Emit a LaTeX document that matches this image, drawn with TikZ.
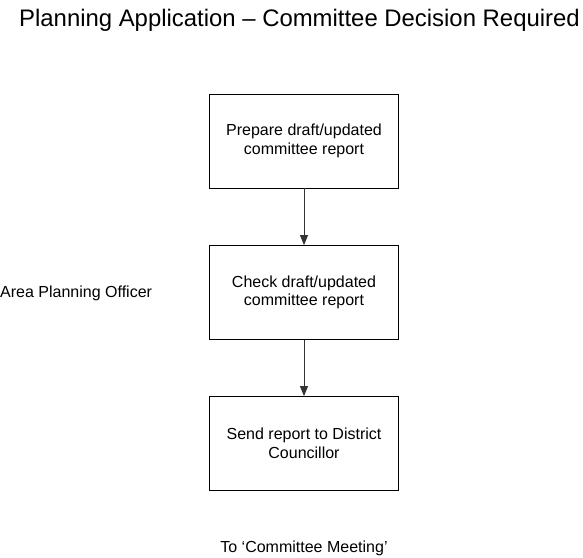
\documentclass[tikz,border=0pt]{standalone}
\usepackage{fontspec}
\setmainfont{Liberation Sans}
\usetikzlibrary{arrows.meta}
\begin{document}
\begin{tikzpicture}[x=1pt,y=1pt,
  stepbox/.style={draw=black, line width=0.8pt, minimum width=189pt, minimum height=94pt, align=center, font=\fontsize{16}{18.5}\selectfont, inner sep=0pt},
  flow/.style={draw=black!80, line width=0.8pt, -{Triangle[length=10pt,width=8pt]}},
  lbl/.style={font=\fontsize{16}{18.5}\selectfont, inner sep=0pt}]
\useasboundingbox (0,0) rectangle (583,-557);
\node[font=\fontsize{23.9}{28}\selectfont, inner sep=0pt, anchor=east] (title) at (580,-20) {Planning Application -- Committee Decision Required};
\node[stepbox] (b1) at (304,-141) {Prepare draft/updated\\committee report};
\node[stepbox] (b2) at (304,-292.5) {Check draft/updated\\committee report};
\node[stepbox] (b3) at (304,-443.5) {Send report to District\\Councillor};
\node[lbl, anchor=west] (apo) at (0,-293) {Area Planning Officer};
\node[lbl] (cm) at (304,-548) {To ‘Committee Meeting’};
\draw[flow] (b1) -- (b2);
\draw[flow] (b2) -- (b3);
\end{tikzpicture}
\end{document}
